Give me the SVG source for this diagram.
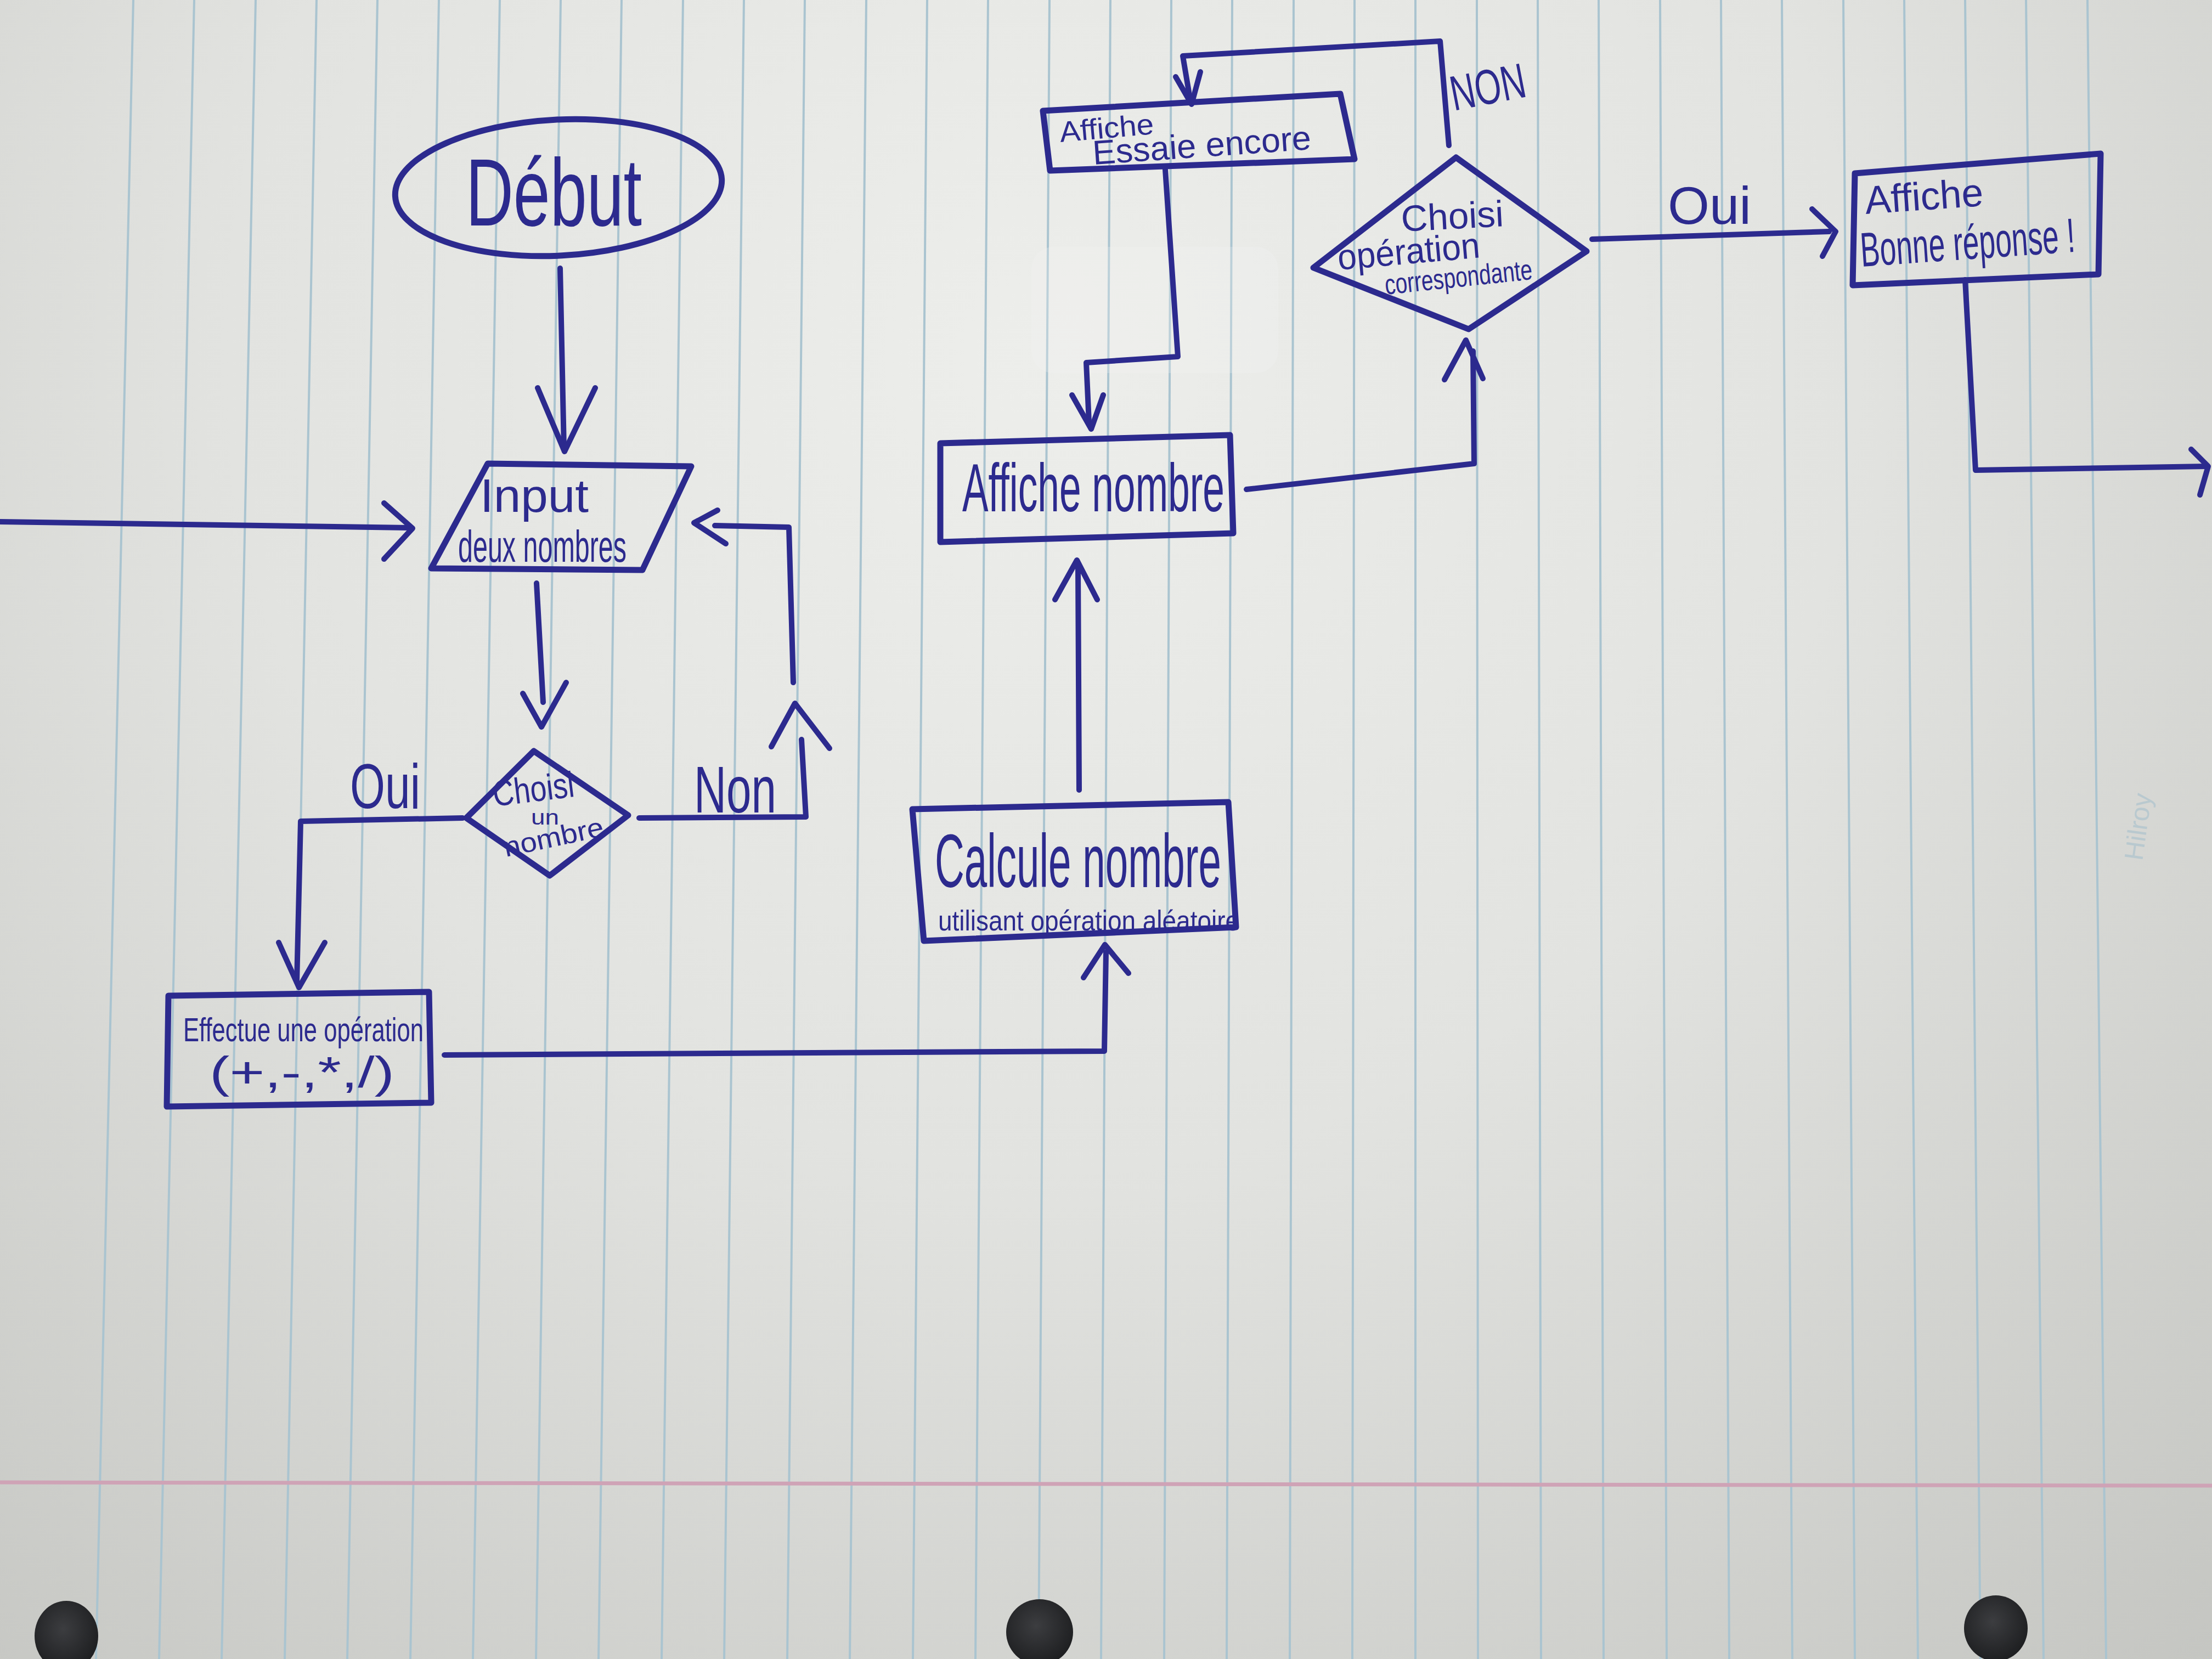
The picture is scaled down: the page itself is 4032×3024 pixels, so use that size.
<svg xmlns="http://www.w3.org/2000/svg" width="4032" height="3024" viewBox="0 0 4032 3024">
<defs>
<radialGradient id="paper" cx="1900" cy="650" r="3300" gradientUnits="userSpaceOnUse">
<stop offset="0" stop-color="#edeeeb"/>
<stop offset="0.45" stop-color="#e2e3e0"/>
<stop offset="1" stop-color="#c3c4c0"/>
</radialGradient>
<radialGradient id="hole" cx="0.45" cy="0.4" r="0.6">
<stop offset="0" stop-color="#3c3d40"/>
<stop offset="1" stop-color="#1e1f21"/>
</radialGradient>
<style>
.ink{fill:none;stroke:#2c2a8e;stroke-width:10;stroke-linecap:round;stroke-linejoin:round}
.shape{fill:none;stroke:#2c2a8e;stroke-width:11;stroke-linejoin:round}
.t{fill:#2c2a8e;font-family:"Liberation Sans","DejaVu Sans",sans-serif}
.rule{stroke:#aac4d0;stroke-width:4}
</style>
</defs>

<g id="paper-bg">
<rect x="0" y="0" width="4032" height="3024" fill="url(#paper)"/>
<g id="rules">
<line class="rule" x1="243" y1="0" x2="175" y2="3024"/>
<line class="rule" x1="354" y1="0" x2="290" y2="3024"/>
<line class="rule" x1="466" y1="0" x2="404" y2="3024"/>
<line class="rule" x1="577" y1="0" x2="519" y2="3024"/>
<line class="rule" x1="688" y1="0" x2="633" y2="3024"/>
<line class="rule" x1="800" y1="0" x2="748" y2="3024"/>
<line class="rule" x1="911" y1="0" x2="862" y2="3024"/>
<line class="rule" x1="1022" y1="0" x2="977" y2="3024"/>
<line class="rule" x1="1133" y1="0" x2="1091" y2="3024"/>
<line class="rule" x1="1245" y1="0" x2="1206" y2="3024"/>
<line class="rule" x1="1356" y1="0" x2="1320" y2="3024"/>
<line class="rule" x1="1467" y1="0" x2="1435" y2="3024"/>
<line class="rule" x1="1579" y1="0" x2="1549" y2="3024"/>
<line class="rule" x1="1690" y1="0" x2="1664" y2="3024"/>
<line class="rule" x1="1801" y1="0" x2="1778" y2="3024"/>
<line class="rule" x1="1913" y1="0" x2="1893" y2="3024"/>
<line class="rule" x1="2024" y1="0" x2="2007" y2="3024"/>
<line class="rule" x1="2135" y1="0" x2="2122" y2="3024"/>
<line class="rule" x1="2246" y1="0" x2="2236" y2="3024"/>
<line class="rule" x1="2358" y1="0" x2="2351" y2="3024"/>
<line class="rule" x1="2469" y1="0" x2="2465" y2="3024"/>
<line class="rule" x1="2580" y1="0" x2="2580" y2="3024"/>
<line class="rule" x1="2692" y1="0" x2="2694" y2="3024"/>
<line class="rule" x1="2803" y1="0" x2="2809" y2="3024"/>
<line class="rule" x1="2914" y1="0" x2="2923" y2="3024"/>
<line class="rule" x1="3026" y1="0" x2="3038" y2="3024"/>
<line class="rule" x1="3137" y1="0" x2="3152" y2="3024"/>
<line class="rule" x1="3248" y1="0" x2="3267" y2="3024"/>
<line class="rule" x1="3360" y1="0" x2="3381" y2="3024"/>
<line class="rule" x1="3471" y1="0" x2="3496" y2="3024"/>
<line class="rule" x1="3582" y1="0" x2="3610" y2="3024"/>
<line class="rule" x1="3693" y1="0" x2="3725" y2="3024"/>
<line class="rule" x1="3805" y1="0" x2="3839" y2="3024"/>
</g>
<line x1="0" y1="2702" x2="4032" y2="2708" stroke="#cfa3b6" stroke-width="7"/>
<ellipse cx="121" cy="2982" rx="58" ry="64" fill="url(#hole)"/>
<ellipse cx="1895" cy="2975" rx="61" ry="60" fill="url(#hole)"/>
<ellipse cx="3638" cy="2968" rx="58" ry="60" fill="url(#hole)"/>
<rect x="1880" y="450" width="450" height="230" rx="40" fill="#f4f4f2" opacity="0.25"/>
<text x="3905" y="1570" transform="rotate(-82 3905 1570)" font-family="Liberation Sans, sans-serif" font-size="48" fill="#a6c0cd" opacity="0.6">Hilroy</text>
</g>

<g id="connectors">
<!-- Debut -> Input -->
<path class="ink" d="M1021,489 L1028,818"/>
<path class="ink" d="M980,707 L1029,823 L1085,707"/>
<!-- incoming from left -> Input -->
<path class="ink" d="M0,951 L746,962"/>
<path class="ink" d="M700,917 L752,963 L700,1019"/>
<!-- Input -> Choisi un nombre -->
<path class="ink" d="M978,1063 L990,1280"/>
<path class="ink" d="M953,1264 L987,1325 L1032,1244"/>
<!-- Non loop -->
<path class="ink" d="M1165,1491 L1469,1489 L1461,1348"/>
<path class="ink" d="M1406,1361 L1449,1282 L1512,1364"/>
<path class="ink" d="M1446,1244 L1438,961 L1303,958"/>
<path class="ink" d="M1308,930 L1265,953 L1323,991"/>
<!-- Oui -> Effectue -->
<path class="ink" d="M843,1491 L548,1497 L541,1790"/>
<path class="ink" d="M508,1718 L545,1800 L592,1718"/>
<!-- Effectue -> Calcule -->
<path class="ink" d="M810,1923 L2013,1916 L2016,1736"/>
<path class="ink" d="M1975,1782 L2014,1722 L2057,1774"/>
<!-- Calcule -> Affiche nombre -->
<path class="ink" d="M1967,1440 L1965,1032"/>
<path class="ink" d="M1923,1093 L1963,1021 L2000,1093"/>
<!-- Affiche nombre -> Choisi operation -->
<path class="ink" d="M2272,892 L2687,845 L2685,640"/>
<path class="ink" d="M2633,692 L2672,620 L2703,690"/>
<!-- Choisi operation NON -> Essaie encore -->
<path class="ink" d="M2641,265 L2625,75 L2156,102 L2170,185"/>
<path class="ink" d="M2143,140 L2172,190 L2188,131"/>
<!-- Essaie encore -> Affiche nombre -->
<path class="ink" d="M2124,309 L2147,650 L1980,661 L1985,770"/>
<path class="ink" d="M1954,720 L1989,782 L2011,720"/>
<!-- Oui -> Bonne reponse -->
<path class="ink" d="M2902,436 L3334,422"/>
<path class="ink" d="M3303,381 L3346,422 L3322,467"/>
<!-- Bonne reponse -> exit -->
<path class="ink" d="M3582,510 L3601,857 L4022,850"/>
<path class="ink" d="M3994,819 L4025,850 L4010,902"/>
<!-- labels -->
<text class="t" x="638" y="1473" font-size="115" textLength="128" lengthAdjust="spacingAndGlyphs">Oui</text>
<text class="t" x="1265" y="1481" font-size="120" textLength="150" lengthAdjust="spacingAndGlyphs">Non</text>
<text class="t" x="3040" y="408" font-size="96" textLength="152" lengthAdjust="spacingAndGlyphs">Oui</text>
<text class="t" x="2650" y="202" font-size="90" textLength="138" lengthAdjust="spacingAndGlyphs" transform="rotate(-11 2650 202)">NON</text>
</g>

<g id="node-debut">
<ellipse class="shape" cx="1018" cy="342" rx="298" ry="124" transform="rotate(-3 1018 342)"/>
<text class="t" x="849" y="411" font-size="175" textLength="321" lengthAdjust="spacingAndGlyphs">Début</text>
</g>

<g id="node-input">
<polygon class="shape" points="889,845 1260,850 1171,1039 786,1036"/>
<text class="t" x="875" y="933" font-size="85" textLength="198" lengthAdjust="spacingAndGlyphs">Input</text>
<text class="t" x="835" y="1024" font-size="82" textLength="307" lengthAdjust="spacingAndGlyphs">deux nombres</text>
</g>

<g id="node-choisi-nombre">
<polygon class="shape" points="973,1369 1145,1486 1002,1596 850,1491"/>
<text class="t" x="901" y="1470" font-size="66" textLength="149" lengthAdjust="spacingAndGlyphs" transform="rotate(-7 901 1470)">Choisi</text>
<text class="t" x="968" y="1503" font-size="38" textLength="51" lengthAdjust="spacingAndGlyphs">un</text>
<text class="t" x="922" y="1562" font-size="50" textLength="185" lengthAdjust="spacingAndGlyphs" transform="rotate(-12 922 1562)">nombre</text>
</g>

<g id="node-effectue">
<polygon class="shape" points="307,1815 782,1808 786,2010 304,2017"/>
<text class="t" x="334" y="1898" font-size="62" textLength="438" lengthAdjust="spacingAndGlyphs">Effectue une opération</text>
<text class="t" x="382" y="1982" font-size="80" textLength="337" lengthAdjust="spacingAndGlyphs">(+,-,*,/)</text>
</g>

<g id="node-calcule">
<polygon class="shape" points="1663,1475 2239,1462 2253,1690 1684,1715"/>
<text class="t" x="1704" y="1617" font-size="138" textLength="522" lengthAdjust="spacingAndGlyphs">Calcule nombre</text>
<text class="t" x="1710" y="1696" font-size="52" textLength="549" lengthAdjust="spacingAndGlyphs">utilisant opération aléatoire</text>
</g>

<g id="node-affiche-nombre">
<polygon class="shape" points="1714,808 2242,793 2248,972 1714,988"/>
<text class="t" x="1754" y="932" font-size="125" textLength="478" lengthAdjust="spacingAndGlyphs">Affiche nombre</text>
</g>

<g id="node-choisi-operation">
<polygon class="shape" points="2654,287 2892,458 2677,600 2394,488"/>
<text class="t" x="2555" y="422" font-size="67" textLength="187" lengthAdjust="spacingAndGlyphs" transform="rotate(-3 2555 422)">Choisi</text>
<text class="t" x="2440" y="492" font-size="66" textLength="260" lengthAdjust="spacingAndGlyphs" transform="rotate(-5 2440 492)">opération</text>
<text class="t" x="2526" y="537" font-size="52" textLength="270" lengthAdjust="spacingAndGlyphs" transform="rotate(-6 2526 537)">correspondante</text>
</g>

<g id="node-essaie-encore">
<polygon class="shape" points="1901,202 2443,171 2469,290 1914,311"/>
<text class="t" x="1933" y="259" font-size="53" textLength="172" lengthAdjust="spacingAndGlyphs" transform="rotate(-5 1933 259)">Affiche</text>
<text class="t" x="1993" y="300" font-size="62" textLength="399" lengthAdjust="spacingAndGlyphs" transform="rotate(-4 1993 300)">Essaie encore</text>
</g>

<g id="node-bonne-reponse">
<polygon class="shape" points="3381,316 3829,280 3825,500 3377,520"/>
<text class="t" x="3401" y="390" font-size="72" textLength="216" lengthAdjust="spacingAndGlyphs" transform="rotate(-4 3401 390)">Affiche</text>
<text class="t" x="3393" y="486" font-size="88" textLength="392" lengthAdjust="spacingAndGlyphs" transform="rotate(-4 3393 486)">Bonne réponse !</text>
</g>
</svg>
